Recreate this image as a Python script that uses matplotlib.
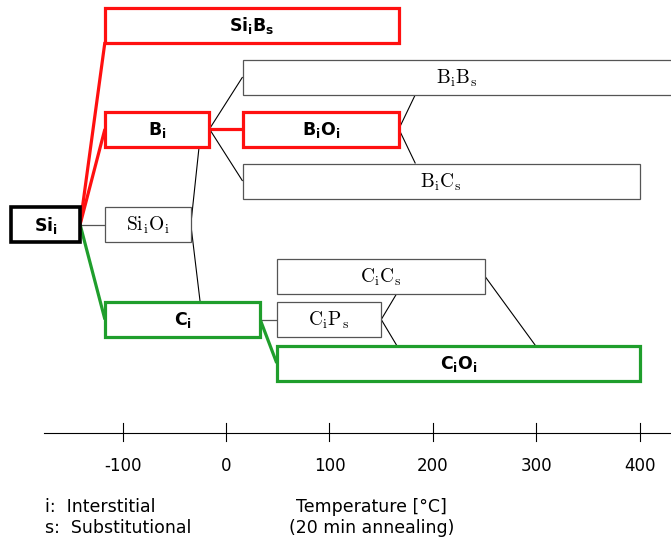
import matplotlib.pyplot as plt
from matplotlib.patches import Rectangle

# temperature ranges (deg C) and row heights of each defect box
names = ['Si_i', 'Si_iB_s', 'B_i', 'B_iO_i', 'B_iB_s', 'B_iC_s', 'Si_iO_i',
         'C_i', 'C_iC_s', 'C_iP_s', 'C_iO_i']
t_start = [-208, -117, -117, 16, 16, 16, -117, -117, 49, 49, 49]
t_end = [-141, 167, -16, 167, 440, 400, -34, 33, 250, 150, 400]
row_y = [224.5, 25, 129, 129, 77, 181, 224.5, 319.5, 276, 319.5, 363]
labels = [r'$\mathbf{Si_i}$', r'$\mathbf{Si_iB_s}$', r'$\mathbf{B_i}$',
          r'$\mathbf{B_iO_i}$', r'$\mathrm{B_iB_s}$', r'$\mathrm{B_iC_s}$',
          r'$\mathrm{Si_iO_i}$', r'$\mathbf{C_i}$', r'$\mathrm{C_iC_s}$',
          r'$\mathrm{C_iP_s}$', r'$\mathbf{C_iO_i}$']
kind = ['start', 'red', 'red', 'red', 'plain', 'plain', 'plain',
        'green', 'plain', 'plain', 'green']

ticks = [-100, 0, 100, 200, 300, 400]
box_h = 35

RED = '#ff1010'
GREEN = '#1f9e2c'
styles = {
    'start': dict(ec='black', lw=2.6),
    'red': dict(ec=RED, lw=2.3),
    'green': dict(ec=GREEN, lw=2.3),
    'plain': dict(ec='#555555', lw=0.9),
}

fig = plt.figure(figsize=(6.71, 5.39), dpi=100)
ax = fig.add_axes([0, 0, 1, 1])
ax.set_xlim(-218.4, 430)
ax.set_ylim(539, 0)
ax.axis('off')

box = {}
for n, a, b, y, lab, k in zip(names, t_start, t_end, row_y, labels, kind):
    st = styles[k]
    ax.add_patch(Rectangle((a, y - box_h / 2), b - a, box_h, fc='white',
                           ec=st['ec'], lw=st['lw'], zorder=3))
    cx = (a + min(b, 430)) / 2
    if k == 'plain':
        ax.text(cx, y + 1, lab, ha='center', va='center', fontsize=14,
                math_fontfamily='cm', zorder=4)
    else:
        ax.text(cx, y + 1, lab, ha='center', va='center', fontsize=12.5,
                math_fontfamily='dejavusans', zorder=4)
    box[n] = (a, b, y)


def left(n):
    a, b, y = box[n]
    return a, y


def right(n):
    a, b, y = box[n]
    return b, y


def link(p, q, color='black', lw=0.8):
    ax.plot([p[0], q[0]], [p[1], q[1]], color=color, lw=lw, zorder=2,
            solid_capstyle='butt')


# reaction paths
link(right('Si_i'), left('Si_iO_i'), color='#555555', lw=0.9)
link(right('Si_i'), (-117, 42), color=RED, lw=2.3)
link(right('Si_i'), left('B_i'), color=RED, lw=2.3)
link(right('Si_i'), left('C_i'), color=GREEN, lw=2.3)
link(right('B_i'), left('B_iO_i'), color=RED, lw=2.3)
link(right('B_i'), left('B_iB_s'))
link(right('B_i'), left('B_iC_s'))
link(right('Si_iO_i'), (-26, 146.5))
link(right('Si_iO_i'), (-25, 302))
link(right('B_iO_i'), (183, 94.5))
link(right('B_iO_i'), (183, 163.5))
link(right('C_i'), left('C_iP_s'), color='#555555', lw=0.9)
link(right('C_i'), left('C_iO_i'), color=GREEN, lw=2.3)
link(right('C_iP_s'), (165, 293.5))
link(right('C_iP_s'), (165, 345.5))
link(right('C_iC_s'), (299, 345.5))

# temperature axis
ax.plot([-176, 430], [432.5, 432.5], color='black', lw=0.8)
for t in ticks:
    ax.plot([t, t], [423, 441], color='black', lw=0.8)
    ax.text(t, 466, str(t), ha='center', va='center', fontsize=12)

ax.text(-175, 507, 'i:  Interstitial', ha='left', va='center', fontsize=12.5)
ax.text(-175, 528, 's:  Substitutional', ha='left', va='center', fontsize=12.5)
ax.text(141, 507, 'Temperature [°C]', ha='center', va='center', fontsize=12.5)
ax.text(141, 528, '(20 min annealing)', ha='center', va='center', fontsize=12.5)

fig.savefig('out.png', dpi=100)
